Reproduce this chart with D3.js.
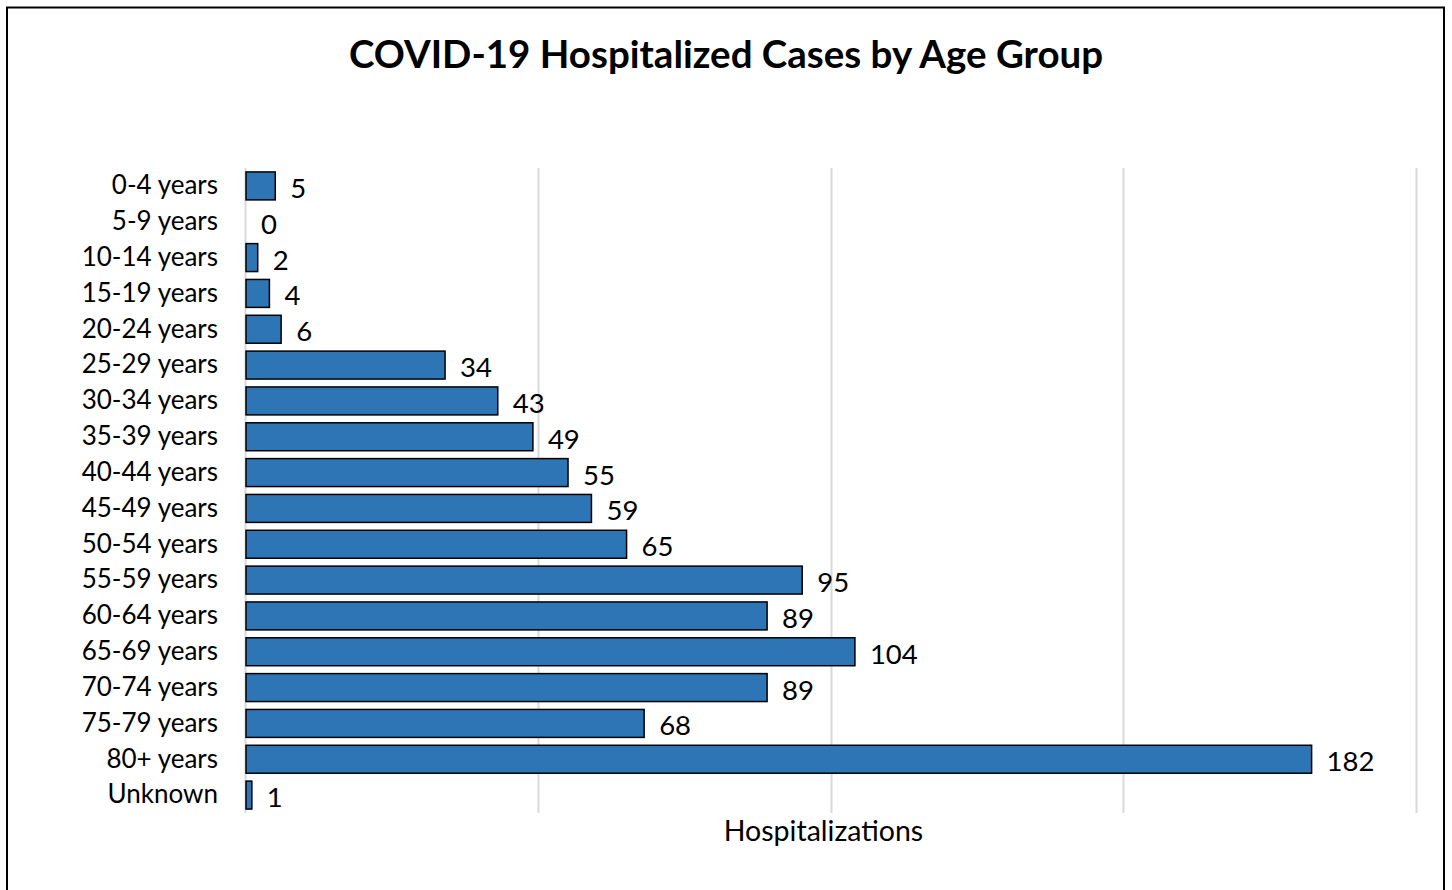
<!DOCTYPE html>
<html>
<head>
<meta charset="utf-8">
<script src="https://cdn.jsdelivr.net/npm/d3@7"></script>
<style>
  body { margin: 0; background: #fff; }
  svg { display: block; font-family: Lato, "Open Sans", sans-serif; }
</style>
</head>
<body>
<div class="chart"></div>
<script>
const ageGroups = [
    "0-4 years", "5-9 years", "10-14 years", "15-19 years", "20-24 years",
    "25-29 years", "30-34 years", "35-39 years", "40-44 years", "45-49 years",
    "50-54 years", "55-59 years", "60-64 years", "65-69 years", "70-74 years",
    "75-79 years", "80+ years", "Unknown"
];
const hospitalizations = [5, 0, 2, 4, 6, 34, 43, 49, 55, 59, 65, 95, 89, 104, 89, 68, 182, 1];
const xTicks = [0, 50, 100, 150, 200];

const w = 1452;
const h = 890;
const plotLeft = 246;
const plotRight = 1417;
const plotTop = 168;
const plotBottom = 813;

const data = ageGroups.map((g, i) => ({ group: g, value: hospitalizations[i] }));

const svg = d3
    .select(".chart")
    .append("svg")
    .attr("width", w)
    .attr("height", h);

// outer frame
svg.append("rect")
    .attr("x", 7)
    .attr("y", 7.5)
    .attr("width", 1437)
    .attr("height", 900)
    .attr("fill", "none")
    .attr("stroke", "#000")
    .attr("stroke-width", 2);

const xScale = d3.scaleLinear().domain([0, 200]).range([plotLeft, plotRight]);
const yScale = d3
    .scaleBand()
    .domain(ageGroups)
    .range([plotTop, plotBottom])
    .paddingInner(0.22)
    .paddingOuter(0.11);

// gridlines
svg.append("g")
    .selectAll("line")
    .data(xTicks)
    .join("line")
    .attr("x1", (d) => Math.round(xScale(d)) - 0.5)
    .attr("x2", (d) => Math.round(xScale(d)) - 0.5)
    .attr("y1", plotTop)
    .attr("y2", plotBottom)
    .attr("stroke", "#d9d9d9")
    .attr("stroke-width", 2);

// category axis
const yAxis = d3.axisLeft(yScale).tickSize(0).tickPadding(28);
svg.append("g")
    .attr("transform", `translate(${plotLeft},0)`)
    .call(yAxis)
    .call((g) => g.select(".domain").remove())
    .call((g) =>
        g.selectAll("text")
            .attr("font-size", 26)
            .attr("fill", "#000")
            .attr("font-family", "Lato, sans-serif")
    );

// bars
svg.append("g")
    .selectAll("rect")
    .data(data.filter((d) => d.value > 0))
    .join("rect")
    .attr("x", xScale(0))
    .attr("y", (d) => yScale(d.group))
    .attr("width", (d) => xScale(d.value) - xScale(0))
    .attr("height", yScale.bandwidth())
    .attr("fill", "#2e75b6")
    .attr("stroke", "#000")
    .attr("stroke-width", 1.5);

// value labels
svg.append("g")
    .selectAll("text")
    .data(data)
    .join("text")
    .attr("x", (d) => xScale(d.value) + 15)
    .attr("y", (d) => yScale(d.group) + yScale.bandwidth() / 2 + 12)
    .attr("font-size", 27.5)
    .attr("fill", "#000")
    .text((d) => d.value);

// axis title
svg.append("text")
    .attr("x", (plotLeft + plotRight) / 2 - 8)
    .attr("y", 841)
    .attr("text-anchor", "middle")
    .attr("font-size", 28.5)
    .attr("fill", "#000")
    .text("Hospitalizations");

// chart title
svg.append("text")
    .attr("x", 726)
    .attr("y", 68)
    .attr("text-anchor", "middle")
    .attr("font-size", 38.5)
    .attr("font-weight", "bold")
    .attr("fill", "#000")
    .text("COVID-19 Hospitalized Cases by Age Group");
</script>
</body>
</html>
